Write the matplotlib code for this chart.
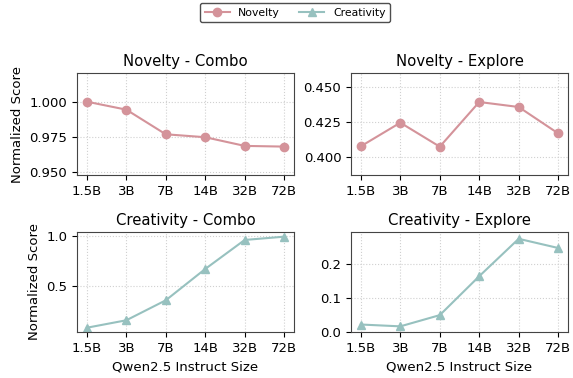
import numpy as np
import matplotlib.pyplot as plt

sizes = ["1.5B", "3B", "7B", "14B", "32B", "72B"]
novelty_combo = [1.000, 0.9943, 0.9767, 0.9746, 0.9684, 0.9679]
novelty_explore = [0.4075, 0.4245, 0.4072, 0.4394, 0.4358, 0.4168]
creativity_combo = [0.080, 0.155, 0.356, 0.671, 0.963, 0.996]
creativity_explore = [0.022, 0.0166, 0.0496, 0.164, 0.274, 0.247]

nov_color = "#d4939a"
cre_color = "#97c1bf"

fig = plt.figure(figsize=(5.73, 3.78), dpi=100)
W, H = 573, 378

def make_ax(x0, y0, x1, y1):
    return fig.add_axes([x0 / W, 1 - y1 / H, (x1 - x0) / W, (y1 - y0) / H])

ax_nc = make_ax(77, 73, 294, 175)
ax_ne = make_ax(351, 73, 568, 175)
ax_cc = make_ax(77, 232, 294, 332)
ax_ce = make_ax(351, 232, 568, 332)

x = np.arange(len(sizes))
panels = [
    (ax_nc, novelty_combo, nov_color, "o", "Novelty - Combo", (0.9476, 1.0205), [0.950, 0.975, 1.000], "{:.3f}"),
    (ax_ne, novelty_explore, nov_color, "o", "Novelty - Explore", (0.3868, 0.4603), [0.400, 0.425, 0.450], "{:.3f}"),
    (ax_cc, creativity_combo, cre_color, "^", "Creativity - Combo", (0.037, 1.043), [0.5, 1.0], "{:.1f}"),
    (ax_ce, creativity_explore, cre_color, "^", "Creativity - Explore", (0.0, 0.294), [0.0, 0.1, 0.2], "{:.1f}"),
]

lines = {}
for ax, vals, col, mk, title, ylim, yt, fmt in panels:
    ln, = ax.plot(x, vals, color=col, marker=mk, markersize=6, linewidth=1.5)
    lines[mk] = ln
    ax.set_title(title, fontsize=10.7, pad=5)
    ax.set_xticks(x)
    ax.set_xticklabels(sizes, fontsize=9.5)
    ax.set_ylim(*ylim)
    ax.set_yticks(yt)
    ax.set_yticklabels([fmt.format(v) for v in yt], fontsize=9.5)
    ax.set_xlim(-0.25, 5.25)
    ax.grid(True, linestyle=":", color="#d0d0d0", linewidth=0.8)
    for s in ax.spines.values():
        s.set_color("#444444")

ax_nc.set_ylabel("Normalized Score", fontsize=9.5)
ax_cc.set_ylabel("Normalized Score", fontsize=9.5)
ax_cc.set_xlabel("Qwen2.5 Instruct Size", fontsize=9.5)
ax_ce.set_xlabel("Qwen2.5 Instruct Size", fontsize=9.5)

fig.legend([lines["o"], lines["^"]], ["Novelty", "Creativity"], loc="upper center",
           bbox_to_anchor=(0.515, 1.0), ncol=2, fontsize=7.8, frameon=True,
           edgecolor="#222222", fancybox=True, handlelength=2.3, columnspacing=1.8,
           handletextpad=0.8, borderaxespad=0.3)

fig.savefig("out.png", dpi=100)
